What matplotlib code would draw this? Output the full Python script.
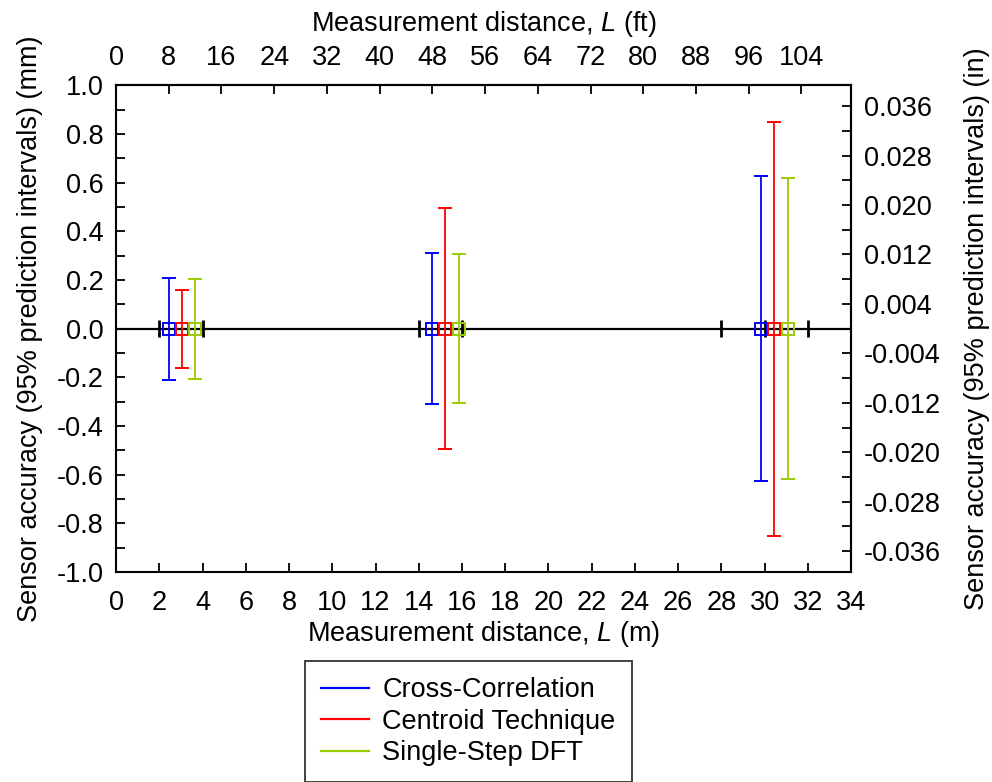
import matplotlib
matplotlib.use('Agg')
import matplotlib.pyplot as plt
from matplotlib.lines import Line2D
from matplotlib.ticker import MultipleLocator, FormatStrFormatter

plt.rcParams['font.family'] = ['Liberation Sans', 'DejaVu Sans']
plt.rcParams['mathtext.fontset'] = 'custom'
plt.rcParams['mathtext.rm'] = 'Liberation Sans'
plt.rcParams['mathtext.it'] = 'Liberation Sans:italic'

# measurement distances (m) and half-widths of 95% prediction intervals (mm)
cc_x = [2.47, 14.63, 29.83]
cc_err = [0.21, 0.31, 0.626]
ct_x = [3.07, 15.23, 30.45]
ct_err = [0.16, 0.494, 0.851]
dft_x = [3.67, 15.85, 31.07]
dft_err = [0.205, 0.305, 0.619]
zero_marks_x = [2, 4, 14, 16, 28, 30, 32]

labels = ['Cross-Correlation', 'Centroid Technique', 'Single-Step DFT']
colors = ['#0000ff', '#ff0000', '#99cc00']

FS = 19.5
M_PER_FT = 0.3048
MM_PER_IN = 25.4

fig = plt.figure(figsize=(9.92, 7.82), dpi=100)
ax = fig.add_axes([0.117, 0.2685, 0.741, 0.6225])

ax.axhline(0, color='black', lw=1.6, zorder=1)
ax.errorbar(zero_marks_x, [0] * len(zero_marks_x), yerr=0.034, fmt='none',
            ecolor='black', elinewidth=2.0, capsize=0, zorder=2)

series = [(cc_x, cc_err), (ct_x, ct_err), (dft_x, dft_err)]
for (xs, errs), c in zip(series, colors):
    ax.errorbar(xs, [0] * len(xs), yerr=errs, fmt='s', mfc='none', mec=c,
                mew=1.4, ms=9, ecolor=c, elinewidth=1.3, capsize=4.8,
                capthick=1.8, zorder=3)

ax.set_xlim(0, 34)
ax.set_ylim(-1.0, 1.0)
ax.xaxis.set_major_locator(MultipleLocator(2))
ax.yaxis.set_major_locator(MultipleLocator(0.2))
ax.yaxis.set_minor_locator(MultipleLocator(0.1))
ax.yaxis.set_major_formatter(FormatStrFormatter('%.1f'))
ax.tick_params(axis='both', which='both', direction='in', length=6.5,
               width=1.3, labelsize=FS, top=False, right=False)
ax.tick_params(axis='x', pad=13)
ax.tick_params(axis='y', pad=9)
for s in ax.spines.values():
    s.set_linewidth(1.5)

ax.set_xlabel(r'Measurement distance, $L$ (m)', fontsize=FS, labelpad=2)
ax.set_ylabel('Sensor accuracy (95% prediction intervals) (mm)',
              fontsize=FS, labelpad=10)

top = ax.secondary_xaxis('top', functions=(lambda m: m / M_PER_FT,
                                           lambda f: f * M_PER_FT))
top.xaxis.set_major_locator(MultipleLocator(8))
top.tick_params(direction='in', length=6.5, width=1.3, labelsize=FS, pad=10)
top.set_xlabel(r'Measurement distance, $L$ (ft)', fontsize=FS, labelpad=10)

right = ax.secondary_yaxis('right', functions=(lambda mm: mm / MM_PER_IN,
                                               lambda i: i * MM_PER_IN))
right.set_yticks([-0.036, -0.028, -0.020, -0.012, -0.004,
                  0.004, 0.012, 0.020, 0.028, 0.036])
right.set_yticks([-0.032, -0.024, -0.016, -0.008, 0.0,
                  0.008, 0.016, 0.024, 0.032], minor=True)
right.yaxis.set_major_formatter(FormatStrFormatter('%.3f'))
right.tick_params(which='both', direction='in', length=6.5, width=1.3,
                  labelsize=FS, pad=9)
right.set_ylabel('Sensor accuracy (95% prediction intervals) (in)',
                 fontsize=FS, labelpad=17)
for s in top.spines.values():
    s.set_linewidth(1.5)
for s in right.spines.values():
    s.set_linewidth(1.5)

handles = [Line2D([], [], color=c, lw=1.6) for c in colors]
leg = fig.legend(handles, labels, loc='upper center',
                 bbox_to_anchor=(0.4723, 0.1547), fontsize=FS,
                 frameon=True, fancybox=False, borderpad=0.6,
                 borderaxespad=0, handlelength=1.75, handletextpad=0.5,
                 labelspacing=0.2)
leg.get_frame().set_edgecolor('black')
leg.get_frame().set_linewidth(1.3)

fig.savefig('out.png', dpi=100)
